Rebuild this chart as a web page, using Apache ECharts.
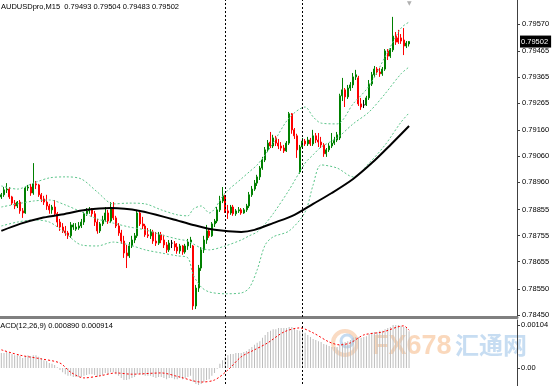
<!DOCTYPE html>
<html><head><meta charset="utf-8">
<script src="https://cdn.jsdelivr.net/npm/echarts@6/dist/echarts.min.js"></script>
<style>html,body{margin:0;padding:0;background:#fff;overflow:hidden}#c{width:553px;height:386px}</style>
</head><body><div id="c"></div>
<script>
const symbolTitle = 'AUDUSDpro,M15  0.79493 0.79504 0.79483 0.79502';
const macdTitle = 'MACD(12,26,9) 0.000890 0.000914';
const slotCount = 194;
const lastPrice = 0.79502;
const separators = ['84', '113'];
const priceMin = 0.784415, priceMax = 0.79662;
const priceTicks = [0.79570,0.79465,0.79365,0.79265,0.79160,0.79060,0.78960,0.78855,0.78755,0.78655,0.78550,0.78450];
const macdMin = -0.000581, macdMax = 0.0011616;
const macdTicks = [0.00104, 0, -0.000557];
const macdTickLabels = ['0.00104', '0.00', '-0.000557'];

const opens = [0.78904,0.78912,0.78931,0.78934,0.78904,0.78880,0.78869,0.78884,0.78850,0.78842,
0.78938,0.78942,0.78919,0.78954,0.78950,0.78912,0.78896,0.78884,0.78869,0.78854,
0.78865,0.78839,0.78807,0.78788,0.78773,0.78765,0.78754,0.78788,0.78780,0.78784,
0.78792,0.78807,0.78839,0.78850,0.78854,0.78839,0.78807,0.78773,0.78800,0.78815,
0.78842,0.78811,0.78861,0.78823,0.78792,0.78765,0.78734,0.78688,0.78677,0.78715,
0.78738,0.78754,0.78842,0.78800,0.78792,0.78758,0.78754,0.78769,0.78734,0.78726,
0.78758,0.78738,0.78719,0.78700,0.78726,0.78723,0.78711,0.78696,0.78715,0.78692,
0.78715,0.78730,0.78715,0.78484,0.78553,0.78630,0.78700,0.78738,0.78773,0.78754,
0.78800,0.78811,0.78854,0.78888,0.78908,0.78850,0.78842,0.78865,0.78839,0.78850,
0.78854,0.78842,0.78854,0.78869,0.78912,0.78934,0.78957,0.78981,0.79015,0.79046,
0.79085,0.79115,0.79100,0.79131,0.79111,0.79100,0.79092,0.79081,0.79111,0.79224,
0.79162,0.79139,0.79000,0.79096,0.79119,0.79108,0.79123,0.79108,0.79139,0.79123,
0.79115,0.79104,0.79070,0.79085,0.79100,0.79111,0.79123,0.79131,0.79293,0.79316,
0.79289,0.79323,0.79335,0.79366,0.79362,0.79262,0.79258,0.79258,0.79285,0.79339,
0.79374,0.79396,0.79385,0.79378,0.79396,0.79466,0.79446,0.79470,0.79523,0.79516,
0.79516,0.79508,0.79485,0.79493];
const closes = [0.78912,0.78931,0.78934,0.78904,0.78880,0.78869,0.78884,0.78850,0.78842,0.78938,
0.78942,0.78919,0.78954,0.78950,0.78912,0.78896,0.78884,0.78869,0.78854,0.78865,
0.78839,0.78807,0.78788,0.78773,0.78765,0.78754,0.78796,0.78796,0.78788,0.78792,
0.78807,0.78839,0.78850,0.78854,0.78839,0.78807,0.78773,0.78800,0.78815,0.78842,
0.78811,0.78861,0.78823,0.78792,0.78765,0.78734,0.78688,0.78677,0.78715,0.78738,
0.78754,0.78842,0.78800,0.78792,0.78758,0.78754,0.78769,0.78734,0.78726,0.78758,
0.78738,0.78719,0.78700,0.78726,0.78726,0.78711,0.78696,0.78715,0.78692,0.78715,
0.78730,0.78738,0.78484,0.78553,0.78630,0.78700,0.78738,0.78773,0.78754,0.78800,
0.78811,0.78854,0.78888,0.78908,0.78850,0.78842,0.78865,0.78839,0.78850,0.78854,
0.78842,0.78854,0.78869,0.78912,0.78934,0.78957,0.78981,0.79015,0.79046,0.79085,
0.79111,0.79100,0.79131,0.79111,0.79100,0.79092,0.79081,0.79111,0.79224,0.79162,
0.79139,0.79085,0.79096,0.79119,0.79108,0.79123,0.79108,0.79139,0.79123,0.79115,
0.79104,0.79070,0.79085,0.79100,0.79111,0.79123,0.79143,0.79293,0.79316,0.79289,
0.79323,0.79335,0.79366,0.79374,0.79262,0.79250,0.79258,0.79285,0.79339,0.79374,
0.79396,0.79385,0.79378,0.79396,0.79466,0.79446,0.79470,0.79523,0.79500,0.79500,
0.79504,0.79485,0.79496,0.79502];
const lows = [0.78896,0.78904,0.78919,0.78896,0.78873,0.78857,0.78861,0.78839,0.78823,0.78839,
0.78927,0.78908,0.78912,0.78934,0.78904,0.78884,0.78873,0.78854,0.78839,0.78839,
0.78831,0.78788,0.78773,0.78765,0.78754,0.78742,0.78746,0.78777,0.78773,0.78777,
0.78784,0.78796,0.78831,0.78839,0.78827,0.78792,0.78762,0.78765,0.78792,0.78807,
0.78800,0.78803,0.78815,0.78784,0.78754,0.78723,0.78669,0.78630,0.78669,0.78707,
0.78726,0.78746,0.78792,0.78780,0.78750,0.78746,0.78742,0.78723,0.78715,0.78719,
0.78726,0.78707,0.78688,0.78692,0.78707,0.78696,0.78685,0.78685,0.78681,0.78685,
0.78700,0.78707,0.78469,0.78472,0.78538,0.78619,0.78688,0.78723,0.78746,0.78750,
0.78788,0.78803,0.78846,0.78880,0.78842,0.78819,0.78835,0.78831,0.78831,0.78842,
0.78835,0.78839,0.78846,0.78861,0.78904,0.78927,0.78946,0.78969,0.79008,0.79038,
0.79077,0.79092,0.79092,0.79100,0.79088,0.79081,0.79073,0.79077,0.79104,0.79147,
0.79127,0.79054,0.78993,0.79092,0.79100,0.79100,0.79100,0.79100,0.79111,0.79096,
0.79092,0.79058,0.79058,0.79077,0.79092,0.79104,0.79115,0.79123,0.79273,0.79250,
0.79281,0.79312,0.79323,0.79354,0.79254,0.79239,0.79246,0.79254,0.79277,0.79331,
0.79366,0.79374,0.79366,0.79370,0.79389,0.79431,0.79439,0.79462,0.79489,0.79493,
0.79493,0.79450,0.79477,0.79483];
const highs = [0.78919,0.78942,0.78957,0.78942,0.78908,0.78892,0.78888,0.78892,0.78861,0.78942,
0.78950,0.78954,0.79034,0.78965,0.78954,0.78919,0.78908,0.78912,0.78877,0.78873,
0.78892,0.78846,0.78819,0.78803,0.78792,0.78773,0.78807,0.78803,0.78803,0.78807,
0.78819,0.78846,0.78861,0.78865,0.78861,0.78850,0.78819,0.78807,0.78831,0.78865,
0.78854,0.78884,0.78884,0.78831,0.78803,0.78777,0.78754,0.78719,0.78730,0.78754,
0.78765,0.78854,0.78846,0.78827,0.78800,0.78784,0.78780,0.78777,0.78769,0.78769,
0.78769,0.78758,0.78730,0.78738,0.78738,0.78734,0.78726,0.78723,0.78719,0.78723,
0.78742,0.78750,0.78719,0.78565,0.78642,0.78711,0.78754,0.78796,0.78784,0.78807,
0.78819,0.78865,0.78908,0.78942,0.78912,0.78873,0.78873,0.78873,0.78857,0.78865,
0.78861,0.78861,0.78877,0.78923,0.78946,0.78969,0.78989,0.79023,0.79058,0.79096,
0.79123,0.79154,0.79143,0.79139,0.79127,0.79115,0.79104,0.79119,0.79231,0.79227,
0.79169,0.79147,0.79104,0.79131,0.79127,0.79135,0.79131,0.79162,0.79150,0.79150,
0.79135,0.79111,0.79092,0.79111,0.79150,0.79135,0.79154,0.79301,0.79362,0.79323,
0.79335,0.79346,0.79381,0.79393,0.79370,0.79285,0.79277,0.79293,0.79354,0.79385,
0.79408,0.79404,0.79400,0.79404,0.79473,0.79473,0.79477,0.79597,0.79539,0.79547,
0.79531,0.79554,0.79504,0.79504];

const bandIdx = [0,6,12,18,24,30,36,42,48,54,60,66,70,72,75,78,84,90,93,96,99,102,108,114,117,120,126,132,138,144,150,153];
const bandUpper = [0.78946,0.78934,0.78957,0.78977,0.78981,0.78973,0.78923,0.78877,0.78880,0.78877,0.78854,0.78835,0.78831,0.78857,0.78869,0.78842,0.78919,0.78973,0.79000,0.79027,0.79066,0.79111,0.79208,0.79250,0.79212,0.79188,0.79185,0.79262,0.79331,0.79443,0.79554,0.79577];
const bandMiddle = [0.78865,0.78877,0.78888,0.78892,0.78873,0.78846,0.78819,0.78803,0.78788,0.78777,0.78758,0.78742,0.78734,0.78723,0.78707,0.78700,0.78715,0.78738,0.78754,0.78769,0.78800,0.78839,0.78931,0.79034,0.79066,0.79096,0.79131,0.79185,0.79231,0.79301,0.79378,0.79404];
const bandLower = [0.78792,0.78807,0.78815,0.78807,0.78765,0.78719,0.78715,0.78730,0.78719,0.78700,0.78688,0.78677,0.78669,0.78604,0.78557,0.78538,0.78531,0.78534,0.78553,0.78623,0.78719,0.78750,0.78773,0.78846,0.78950,0.79027,0.79015,0.78981,0.79034,0.79104,0.79192,0.79227];

const maIdx = [0,7,15,22,32,41,52,64,72,80,90,95,102,110,117,124,132,139,146,153];
const maValues = [0.78773,0.78800,0.78823,0.78835,0.78854,0.78861,0.78850,0.78819,0.78796,0.78777,0.78769,0.78777,0.78803,0.78835,0.78877,0.78919,0.78973,0.79034,0.79104,0.79177];

const macdHist = [0.00036,0.00036,0.00039,0.00036,0.00034,0.00031,0.00031,0.00029,0.00024,0.00029,
0.00031,0.00029,0.00031,0.00031,0.00027,0.00024,0.00019,0.00017,0.00012,0.00010,
0.00007,0.00002,-0.00005,-0.00010,-0.00015,-0.00019,-0.00019,-0.00022,-0.00022,-0.00022,
-0.00022,-0.00019,-0.00017,-0.00015,-0.00015,-0.00017,-0.00022,-0.00019,-0.00017,-0.00012,
-0.00015,-0.00010,-0.00010,-0.00015,-0.00019,-0.00024,-0.00029,-0.00029,-0.00027,-0.00024,
-0.00022,-0.00015,-0.00015,-0.00017,-0.00019,-0.00019,-0.00019,-0.00022,-0.00024,-0.00022,
-0.00022,-0.00024,-0.00027,-0.00024,-0.00024,-0.00027,-0.00027,-0.00024,-0.00027,-0.00024,
-0.00022,-0.00019,-0.00034,-0.00039,-0.00041,-0.00039,-0.00034,-0.00029,-0.00027,-0.00019,
-0.00012,-0.00002,0.00010,0.00019,0.00027,0.00031,0.00034,0.00034,0.00036,0.00036,
0.00036,0.00039,0.00041,0.00046,0.00051,0.00056,0.00061,0.00065,0.00073,0.00080,
0.00087,0.00090,0.00094,0.00094,0.00097,0.00097,0.00097,0.00097,0.00099,0.00099,
0.00097,0.00092,0.00090,0.00087,0.00085,0.00080,0.00075,0.00070,0.00068,0.00065,
0.00063,0.00058,0.00056,0.00053,0.00051,0.00051,0.00051,0.00056,0.00061,0.00063,
0.00065,0.00068,0.00073,0.00075,0.00075,0.00073,0.00075,0.00077,0.00082,0.00085,
0.00087,0.00087,0.00090,0.00090,0.00094,0.00097,0.00099,0.00104,0.00104,0.00104,
0.00102,0.00099,0.00097,0.00089];
const signalIdx = [0,7,15,22,26,31,37,43,49,60,67,75,80,85,90,95,100,106,112,117,123,127,131,136,143,151,153];
const signalValues = [0.00044,0.00031,0.00022,0.00012,-0.00010,-0.00024,-0.00019,-0.00012,-0.00015,-0.00012,-0.00022,-0.00034,-0.00029,-0.00005,0.00027,0.00044,0.00061,0.00087,0.00097,0.00085,0.00063,0.00056,0.00061,0.00080,0.00087,0.00102,0.000914];

const font = 'Liberation Sans';
const cats = Array.from({length: slotCount}, (_, i) => String(i));
const candleData = opens.map((o, i) => {
  const item = {value: [o, closes[i], lows[i], highs[i]]};
  if (o === closes[i]) item.itemStyle = {color:'#000', color0:'#000', borderColor:'#000', borderColor0:'#000'};
  return item;
});
const pairs = (idx, vals) => idx.map((k, j) => [k, vals[j]]);
const bandStyle = {color:'#5cc58a', width:1, type:[2,2]};
const sepLine = {color:'#000', width:1, type:[2,2]};
const priceLabelValues = priceTicks.concat([lastPrice]);

const chart = echarts.init(document.getElementById('c'), null, {renderer:'canvas'});
chart.setOption({
  animation: false,
  backgroundColor: '#fff',
  grid: [
    {left:0, right:36, top:0, height:317, outerBoundsMode:'none', containLabel:false},
    {left:0, right:36, top:320, height:72, outerBoundsMode:'none', containLabel:false}
  ],
  xAxis: [
    {type:'category', data:cats, gridIndex:0, axisLine:{show:true, onZero:false, lineStyle:{color:'#808080', width:3}}, axisTick:{show:false}, axisLabel:{show:false}, splitLine:{show:false}},
    {type:'category', data:cats, gridIndex:1, axisLine:{show:false}, axisTick:{show:false}, axisLabel:{show:false}, splitLine:{show:false}}
  ],
  yAxis: [
    {type:'value', gridIndex:0, position:'right', min:priceMin, max:priceMax, splitLine:{show:false},
     axisLine:{show:true, lineStyle:{color:'#404040'}},
     axisTick:{show:true, length:3, customValues:priceTicks, lineStyle:{color:'#404040'}},
     axisLabel:{customValues:priceLabelValues, margin:3, fontSize:7.5, color:'#000', fontFamily:font,
       formatter:v => Math.abs(v - lastPrice) < 1e-9 ? '{cur|' + lastPrice.toFixed(5) + '}' : ' ' + v.toFixed(5),
       rich:{cur:{backgroundColor:'#000', color:'#fff', fontSize:7.5, fontFamily:font, padding:[2,3,2,1]}}}},
    {type:'value', gridIndex:1, position:'right', min:macdMin, max:macdMax, splitLine:{show:false},
     axisLine:{show:true, lineStyle:{color:'#404040'}},
     axisTick:{show:true, length:3, customValues:macdTicks, lineStyle:{color:'#404040'}},
     axisLabel:{customValues:macdTicks, formatter:v => macdTickLabels[macdTicks.findIndex(t => Math.abs(t - v) < 1e-9)] || '', fontSize:7.5, color:'#000', fontFamily:font, margin:4}}
  ],
  series: [
    {type:'candlestick', xAxisIndex:0, yAxisIndex:0, data:candleData, barWidth:1.5,
     itemStyle:{color:'#008000', color0:'#ff0000', borderColor:'#008000', borderColor0:'#ff0000', borderWidth:1},
     markLine:{symbol:'none', silent:true, animation:false, data:[
       {yAxis:lastPrice, lineStyle:{color:'#c0c0c0', type:'solid', width:1}, label:{show:false}},
       {xAxis:separators[0], lineStyle:sepLine, label:{show:false}},
       {xAxis:separators[1], lineStyle:sepLine, label:{show:false}}
     ]}},
    {type:'line', xAxisIndex:0, yAxisIndex:0, data:pairs(bandIdx, bandUpper), showSymbol:false, smooth:0.3, lineStyle:bandStyle, z:3},
    {type:'line', xAxisIndex:0, yAxisIndex:0, data:pairs(bandIdx, bandMiddle), showSymbol:false, smooth:0.3, lineStyle:bandStyle, z:3},
    {type:'line', xAxisIndex:0, yAxisIndex:0, data:pairs(bandIdx, bandLower), showSymbol:false, smooth:0.3, lineStyle:bandStyle, z:3},
    {type:'line', xAxisIndex:0, yAxisIndex:0, data:pairs(maIdx, maValues), showSymbol:false, smooth:0.3, lineStyle:{color:'#000', width:2}, z:4},
    {type:'bar', xAxisIndex:1, yAxisIndex:1, data:macdHist, barWidth:1, itemStyle:{color:'#bdbdbd'},
     markLine:{symbol:'none', silent:true, animation:false, data:[
       {xAxis:separators[0], lineStyle:sepLine, label:{show:false}},
       {xAxis:separators[1], lineStyle:sepLine, label:{show:false}}
     ]}},
    {type:'line', xAxisIndex:1, yAxisIndex:1, data:pairs(signalIdx, signalValues), showSymbol:false, smooth:0.3, lineStyle:{color:'#ff0000', width:1, type:[2,2]}, z:4}
  ],
  graphic: [
    {type:'text', left:1, top:3, z:10, style:{text:symbolTitle, fill:'#000', font:'7.5px "Liberation Sans"'}},
    {type:'text', x:-6, y:322, z:10, style:{text:macdTitle, fill:'#000', font:'7.5px "Liberation Sans"'}},
    {type:'text', x:407, y:0, z:10, style:{text:'▼', fill:'#b0b0b0', font:'6px "DejaVu Sans"'}},
    {type:'circle', shape:{cx:345, cy:343, r:12}, z:0, style:{fill:'none', stroke:'#f3a46a', lineWidth:4, opacity:0.4}},
    {type:'circle', shape:{cx:347, cy:341, r:6}, z:0, style:{fill:'none', stroke:'#7fb0df', lineWidth:3, opacity:0.45}},
    {type:'text', x:372, y:333, z:0, style:{text:'FX678', fill:'#f5b27a', opacity:0.5, font:'bold 27px "Liberation Sans"'}},
    {type:'text', x:455, y:333, z:0, style:{text:'汇通网', fill:'#8fbbe6', opacity:0.5, font:'bold 24px "Noto Sans CJK SC"'}}
  ]
});
</script>
</body></html>
